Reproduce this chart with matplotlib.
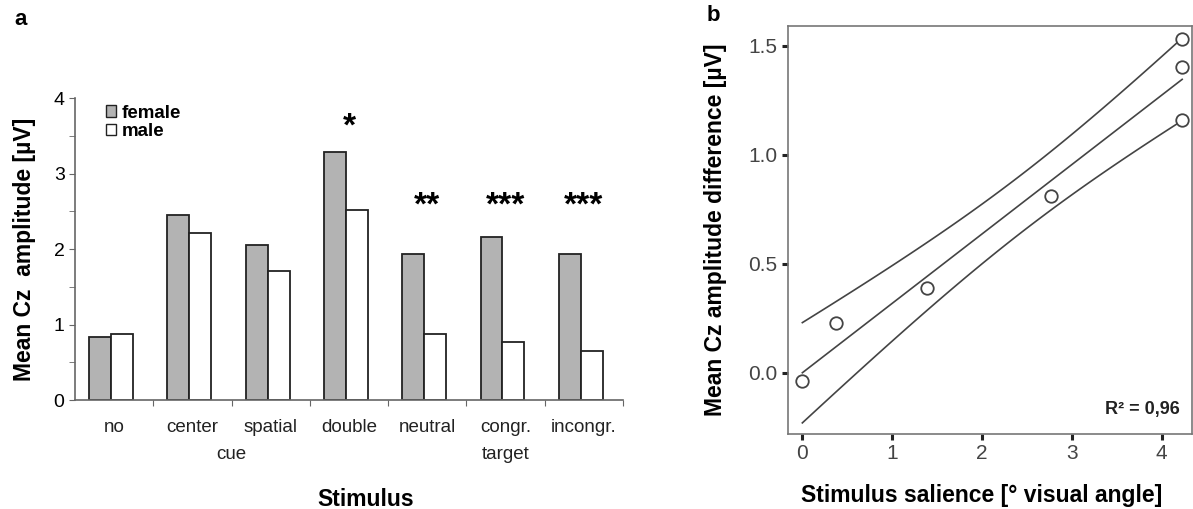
import numpy as np
import matplotlib
matplotlib.use("Agg")
import matplotlib.pyplot as plt
from matplotlib.patches import Patch
from matplotlib.transforms import blended_transform_factory

# panel a data
stimuli = ["no", "center", "spatial", "double", "neutral", "congr.", "incongr."]
female = [0.84, 2.45, 2.06, 3.29, 1.94, 2.16, 1.94]
male = [0.87, 2.21, 1.71, 2.52, 0.87, 0.77, 0.65]
stars = ["", "", "", "*", "**", "***", "***"]
groups = [("cue", 1.5), ("target", 5.0)]

# panel b data
salience = [0.0, 0.38, 1.39, 2.77, 4.23, 4.23, 4.23]
amp_diff = [-0.04, 0.23, 0.39, 0.81, 1.53, 1.40, 1.16]

plt.rcParams["font.family"] = ["Liberation Sans", "DejaVu Sans"]
narrow = ["Liberation Sans Narrow", "Liberation Sans", "DejaVu Sans"]

fig = plt.figure(figsize=(11.93, 5.09), dpi=100)

# ---------- a ----------
ax = fig.add_axes([0.0629, 0.2141, 0.4593, 0.5928])
x = np.arange(len(stimuli))
w = 0.28
ax.bar(x - 0.04 - w / 2, female, width=w, color="#b3b3b3", edgecolor="#222222", linewidth=1.3, label="female")
ax.bar(x - 0.04 + w / 2, male, width=w, color="white", edgecolor="#222222", linewidth=1.3, label="male")

for i, s in enumerate(stars):
    if s:
        y = 3.62 if s == "*" else 2.57
        ax.text(i, y, s, ha="center", va="center", fontsize=24, fontweight="bold")

ax.set_xlim(-0.5, 6.5)
ax.set_ylim(0, 4)
ax.spines["top"].set_visible(False)
ax.spines["right"].set_visible(False)
for sp in ["left", "bottom"]:
    ax.spines[sp].set_color("#666666")
    ax.spines[sp].set_linewidth(1.2)

ax.set_yticks([0, 1, 2, 3, 4])
ax.set_yticks([0.5, 1.5, 2.5, 3.5], minor=True)
ax.set_xticks(np.arange(0.5, 7, 1))
ax.set_xticklabels([])
ax.set_xticks(x, minor=True)
ax.set_xticklabels(stimuli, minor=True, fontfamily=narrow, fontsize=13.5, color="#222222")
ax.tick_params(axis="x", which="major", length=4, color="#666666", direction="out")
ax.tick_params(axis="x", which="minor", length=0, pad=14)
ax.tick_params(axis="y", which="both", length=4, color="#666666", direction="out", labelsize=14)
for lab in ax.get_yticklabels():
    lab.set_fontfamily(narrow)

trans = blended_transform_factory(ax.transData, ax.transAxes)
for name, pos in groups:
    ax.text(pos, -0.18, name, transform=trans, ha="center", va="center", fontsize=13.5,
            fontfamily=narrow, color="#222222")

ax.set_ylabel("Mean Cz  amplitude [µV]", fontsize=16.5, fontweight="bold")
ax.yaxis.set_label_coords(-0.072, 0.5)
ax.set_xlabel("Stimulus", fontsize=16.5, fontweight="bold")
ax.xaxis.set_label_coords(0.531, -0.29)

handles = [Patch(facecolor="#b3b3b3", edgecolor="#222222", linewidth=1.0),
           Patch(facecolor="white", edgecolor="#222222", linewidth=1.0)]
ax.legend(handles, ["female", "male"], loc="upper left", bbox_to_anchor=(0.025, 1.035),
          frameon=False, handlelength=0.55, handleheight=0.55, handletextpad=0.3,
          labelspacing=0.1, prop={"weight": "bold", "size": 13.5})

fig.text(0.012, 0.962, "a", fontsize=16, fontweight="bold", va="center")

# ---------- b ----------
bx = fig.add_axes([0.6605, 0.1473, 0.3387, 0.8016])
xs = np.array(salience)
ys = np.array(amp_diff)
slope, icpt = np.polyfit(xs, ys, 1)
n = len(xs)
resid = ys - (slope * xs + icpt)
s = np.sqrt(np.sum(resid ** 2) / (n - 2))
t = 2.571  # t(0.975, df=5)
xx = np.linspace(xs.min(), xs.max(), 100)
fit = slope * xx + icpt
se = s * np.sqrt(1 / n + (xx - xs.mean()) ** 2 / np.sum((xs - xs.mean()) ** 2))
r2 = 1 - np.sum(resid ** 2) / np.sum((ys - ys.mean()) ** 2)

for yy in [fit, fit + t * se, fit - t * se]:
    bx.plot(xx, yy, color="#444444", linewidth=1.2)
bx.plot(xs, ys, "o", markersize=9, markerfacecolor="white", markeredgecolor="#444444", markeredgewidth=1.3)

bx.set_xlim(-0.16, 4.34)
bx.set_ylim(-0.281, 1.59)
bx.set_xticks([0, 1, 2, 3, 4])
bx.set_yticks([0.0, 0.5, 1.0, 1.5])
bx.set_yticklabels(["0.0", "0.5", "1.0", "1.5"])
for sp in bx.spines.values():
    sp.set_color("#777777")
    sp.set_linewidth(1.2)
bx.tick_params(which="both", length=4, width=2.2, color="#222222", direction="out", labelsize=15)
for lab in bx.get_xticklabels() + bx.get_yticklabels():
    lab.set_fontfamily(narrow)
    lab.set_color("#444444")

bx.text(0.97, 0.06, "R² = {:.2f}".format(r2).replace(".", ","), transform=bx.transAxes,
        ha="right", va="center", fontsize=13, fontweight="bold", color="#222222")

bx.set_ylabel("Mean Cz amplitude difference [µV]", fontsize=16.5, fontweight="bold")
bx.yaxis.set_label_coords(-0.152, 0.5)
bx.set_xlabel("Stimulus salience [° visual angle]", fontsize=16.5, fontweight="bold")
bx.xaxis.set_label_coords(0.48, -0.122)

fig.text(0.592, 0.97, "b", fontsize=16, fontweight="bold", va="center")

fig.savefig("out.png", dpi=100)
